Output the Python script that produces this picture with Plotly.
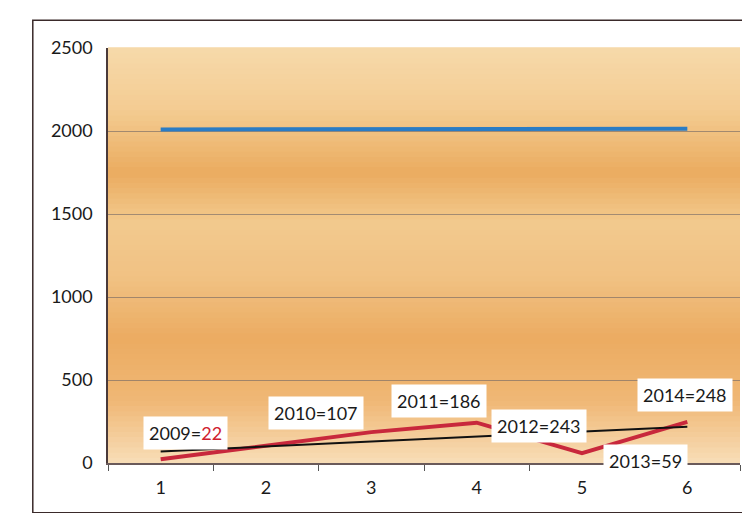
import plotly.graph_objects as go

categories = ["1", "2", "3", "4", "5", "6"]
years = [2009, 2010, 2011, 2012, 2013, 2014]
values = [22, 107, 186, 243, 59, 248]
trend_x = ["1", "6"]
trend_y = [70, 219]
y_ticks = [0, 500, 1000, 1500, 2000, 2500]

# label placement offsets (pixels) relative to each red point
label_dx = [25, 50, 68, 62, 63, -2]
label_dy = [26, 32, 31, -3, -8, 27]

FONT = "Lato, Noto Sans, sans-serif"

fig = go.Figure()

# background gradient bands of the plot area (style only)
stops = [
    (0.00, (248, 222, 184)),
    (0.15, (240, 184, 118)),
    (0.30, (236, 172, 98)),
    (0.45, (241, 194, 132)),
    (0.58, (243, 202, 142)),
    (0.70, (235, 172, 96)),
    (0.85, (244, 204, 146)),
    (1.00, (247, 218, 170)),
]
n = 80
def col_at(t):
    for i in range(len(stops) - 1):
        a, ca = stops[i]
        b, cb = stops[i + 1]
        if a <= t <= b:
            f = (t - a) / (b - a)
            return tuple(int(ca[k] + (cb[k] - ca[k]) * f) for k in range(3))
    return stops[-1][1]
shapes = []
for i in range(n):
    y0 = i / n
    y1 = (i + 1) / n
    c = col_at((y0 + y1) / 2)
    shapes.append(dict(type="rect", xref="paper", yref="paper", x0=0, x1=1,
                       y0=y0, y1=y1 + 0.002, line=dict(width=0),
                       fillcolor="rgb(%d,%d,%d)" % c, layer="below"))
# outer chart frame
shapes.append(dict(type="rect", xref="paper", yref="paper", x0=-0.119, x1=1.044,
                   y0=-0.12, y1=1.067, line=dict(color="#3a2a2a", width=1.5),
                   fillcolor="rgba(0,0,0,0)", layer="above"))

fig.add_trace(go.Scatter(x=categories, y=years, mode="lines",
                         line=dict(color="#2b7cc4", width=4), hoverinfo="skip"))
fig.add_trace(go.Scatter(x=categories, y=values, mode="lines",
                         line=dict(color="#c8283c", width=4), hoverinfo="skip"))
fig.add_trace(go.Scatter(x=trend_x, y=trend_y, mode="lines",
                         line=dict(color="#111111", width=2), hoverinfo="skip"))

annotations = []
for i, (yr, v) in enumerate(zip(years, values)):
    if i == 0:
        txt = "%d=<span style='color:#d0202e'>%d</span>" % (yr, v)
    else:
        txt = "%d=%d" % (yr, v)
    annotations.append(dict(x=i, y=v, xref="x", yref="y", text=txt,
                            showarrow=False, xshift=label_dx[i], yshift=label_dy[i],
                            bgcolor="white", borderpad=5,
                            font=dict(size=18, color="#1a1a1a", family=FONT)))

fig.update_layout(
    width=750, height=513,
    margin=dict(l=100, r=18, t=40, b=58),
    paper_bgcolor="white",
    plot_bgcolor="rgba(0,0,0,0)",
    showlegend=False,
    shapes=shapes,
    annotations=annotations,
    font=dict(family=FONT, size=17, color="#1a1a1a"),
)
fig.update_xaxes(type="category", categoryorder="array", categoryarray=categories,
                 range=[-0.5, 5.5], autorange=False,
                 tickson="boundaries", ticks="outside", ticklen=6, tickcolor="#555",
                 showgrid=False, showline=True, linecolor="#6a5a5a", linewidth=1.5,
                 tickfont=dict(size=18, family=FONT), ticklabelstandoff=8)
fig.update_yaxes(range=[0, 2500], tickvals=y_ticks, showgrid=True,
                 gridcolor="rgba(110,100,100,0.6)", gridwidth=1,
                 zeroline=False, showline=True, linecolor="#4a3a3a", linewidth=1.5,
                 ticks="", tickfont=dict(size=18, family=FONT), ticklabelstandoff=10)

fig.write_html("out.html")
